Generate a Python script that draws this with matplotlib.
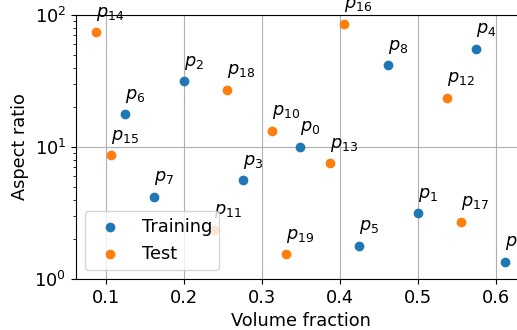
import matplotlib
matplotlib.use("Agg")
import matplotlib.pyplot as plt

plt.rcParams['font.size'] = 12.8

train_vf = [0.349, 0.500, 0.200, 0.275, 0.574, 0.424, 0.124, 0.162, 0.4615, 0.6115]
train_ar = [10.0, 3.15, 31.5, 5.6, 55.6, 1.78, 17.7, 4.2, 41.6, 1.34]
test_vf = [0.312, 0.2385, 0.537, 0.387, 0.0876, 0.1064, 0.4055, 0.555, 0.2555, 0.3308]
test_ar = [13.3, 2.35, 23.5, 7.52, 74.0, 8.65, 85.5, 2.72, 27.2, 1.54]
train_names = [f"$p_{{{i}}}$" for i in range(10)]
test_names = [f"$p_{{{i}}}$" for i in range(10, 20)]

fig = plt.figure(figsize=(5.17, 3.30), dpi=100)
ax = fig.add_axes([76/517, 51/330, 449.6/517, 264/330])
ax.scatter(train_vf, train_ar, color='#1f77b4', label='Training', zorder=3)
ax.scatter(test_vf, test_ar, color='#ff7f0e', label='Test', zorder=3)
for x, y, n in zip(train_vf, train_ar, train_names):
    ax.annotate(n, (x, y), xytext=(0, 7), textcoords='offset points',
                ha='left', va='bottom', zorder=4)
for x, y, n in zip(test_vf, test_ar, test_names):
    ax.annotate(n, (x, y), xytext=(0, 7), textcoords='offset points',
                ha='left', va='bottom', zorder=4)
ax.set_yscale('log')
ax.set_ylim(1, 100)
ax.set_xticks([0.1, 0.2, 0.3, 0.4, 0.5, 0.6])
ax.grid(True, which='major', color='#b0b0b0', linewidth=0.8, zorder=0)
ax.set_axisbelow(True)
ax.set_xlabel('Volume fraction')
ax.set_ylabel('Aspect ratio')
ax.legend(loc='lower left')
fig.savefig('out.png', dpi=100)
